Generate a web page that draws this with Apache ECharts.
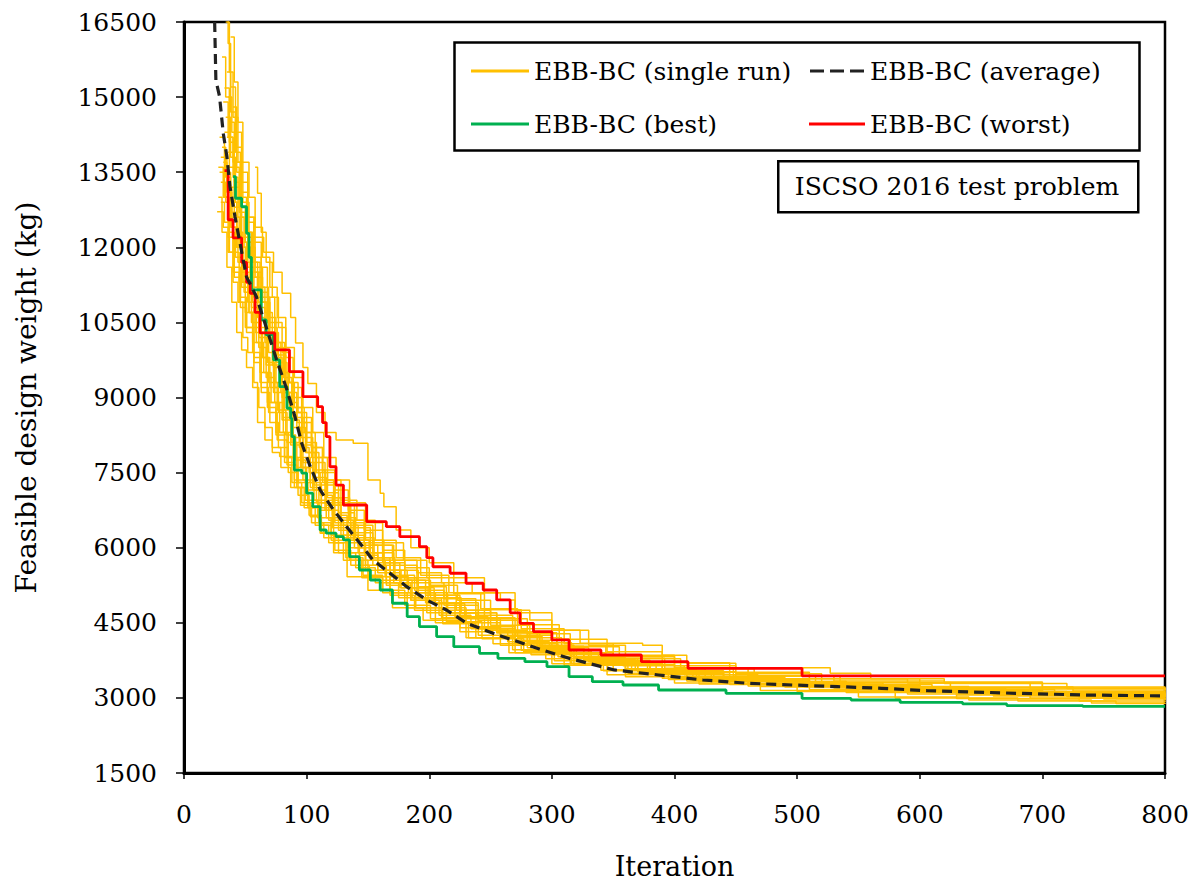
<!DOCTYPE html>
<html>
<head>
<meta charset="utf-8">
<script src="https://cdn.jsdelivr.net/npm/echarts@6/dist/echarts.min.js"></script>
<style>
  html, body { margin: 0; padding: 0; background: #fff; }
  #chart { width: 1201px; height: 888px; }
</style>
</head>
<body>
<div id="chart"></div>
<script>
// [iteration, weight] pairs (drop points of each run)
const run01 = [[27,12710],[32,12400],[36,11900],[40,11300],[44,10900],[48,10200],[52,9900],[57,9300],[60,8500],[66,8150],[72,7900],[78,7820],[88,7300],[96,6900],[103,6620],[111,6290],[122,5900],[133,5420],[150,5150],[170,4800],[195,4550],[230,4200],[270,3900],[310,3650],[360,3420],[420,3280],[500,3130],[580,3000],[680,2940],[760,2890],[800,2890]];
const run02 = [[33,17000],[36,16070],[38,15200],[42,14300],[47,13500],[52,12600],[57,12100],[63,11600],[68,11000],[74,10500],[80,9900],[86,9300],[93,8700],[100,8100],[108,7500],[117,7000],[128,6600],[140,6200],[155,5800],[172,5400],[190,5100],[215,4750],[245,4350],[280,4000],[320,3740],[370,3520],[430,3350],[500,3240],[600,3140],[700,3080],[800,3060]];
const run03 = [[33,15180],[37,14500],[41,13600],[45,12800],[50,12300],[55,11700],[60,11200],[66,10700],[72,10100],[79,9500],[85,8900],[92,8400],[99,7900],[107,7400],[116,6950],[126,6550],[138,6150],[152,5750],[168,5350],[186,5000],[210,4700],[238,4380],[270,4080],[305,3820],[350,3560],[400,3400],[460,3290],[530,3200],[620,3120],[720,3050],[800,3020]];
const run04 = [[30,13300],[34,12900],[38,12400],[42,11800],[47,11200],[53,10700],[58,10300],[64,9800],[70,9200],[77,8700],[84,8100],[92,7600],[100,7150],[110,6750],[121,6400],[134,6000],[148,5650],[165,5300],[185,4950],[210,4600],[240,4250],[275,3950],[315,3680],[365,3470],[420,3330],[490,3220],[570,3120],[660,3040],[750,2980],[800,2960]];
const run05 = [[58,13600],[60,13080],[63,12300],[67,11700],[72,11000],[77,10400],[83,9800],[89,9200],[96,8600],[104,8000],[113,7500],[123,7000],[135,6550],[148,6150],[163,5750],[180,5400],[200,5050],[225,4700],[255,4300],[290,4000],[330,3750],[380,3540],[440,3380],[510,3270],[600,3180],[700,3110],[800,3080]];
const run06 = [[35,14200],[40,13700],[46,13100],[52,12600],[58,12200],[65,11900],[73,11500],[80,11080],[87,10600],[91,10090],[97,9600],[101,9280],[108,8700],[115,8300],[124,8150],[138,8085],[150,7350],[160,7090],[163,6820],[173,6354],[185,6000],[200,5700],[220,5400],[245,5100],[270,4700],[300,4350],[330,4050],[360,3850],[400,3640],[450,3480],[520,3380],[600,3300],[700,3200],[800,3160]];
const run07 = [[36,13900],[41,13200],[46,12600],[52,12000],[58,11400],[64,10900],[70,10300],[77,9700],[84,9100],[92,8500],[100,7900],[110,7350],[122,6850],[136,6400],[152,6050],[170,5750],[190,5500],[210,5300],[235,5100],[258,4956],[270,4750],[282,4557],[300,4350],[323,4090],[374,4050],[390,3850],[410,3690],[450,3600],[527,3490],[560,3380],[620,3320],[700,3220],[800,3180]];
const run08 = [[32,13000],[36,12500],[40,11900],[45,11300],[50,10700],[56,10100],[62,9500],[68,8900],[75,8300],[82,7700],[90,7200],[98,6800],[107,6450],[118,6100],[130,5750],[145,5400],[162,5100],[182,4800],[205,4500],[232,4200],[265,3900],[300,3680],[345,3460],[400,3300],[470,3150],[550,3020],[640,2960],[740,2900],[800,2880]];
const run09 = [[29,14200],[33,13500],[38,12900],[43,12300],[48,11700],[54,11200],[60,10600],[66,10100],[73,9600],[80,9000],[87,8400],[95,7800],[103,7300],[112,6900],[123,6500],[136,6150],[151,5800],[168,5450],[188,5150],[212,4850],[240,4550],[272,4200],[308,3900],[350,3660],[400,3460],[460,3330],[540,3230],[640,3130],[740,3060],[800,3030]];
const run10 = [[31,15800],[34,15000],[37,14100],[41,13300],[45,12700],[50,12100],[55,11500],[61,10900],[67,10300],[73,9800],[80,9300],[88,8700],[96,8200],[105,7700],[115,7250],[126,6850],[139,6450],[154,6050],[171,5650],[190,5300],[212,4980],[238,4650],[268,4250],[300,3960],[340,3720],[390,3520],[450,3380],[520,3270],[610,3170],[710,3090],[800,3060]];
const run11 = [[34,14600],[38,13800],[42,12900],[47,12200],[52,11600],[57,11000],[63,10400],[69,9900],[75,9300],[82,8750],[89,8200],[97,7700],[106,7250],[116,6850],[128,6450],[142,6050],[158,5700],[176,5350],[197,5050],[222,4750],[250,4450],[282,4050],[318,3800],[360,3580],[410,3420],[475,3300],[555,3200],[650,3110],[750,3050],[800,3030]];
const run12 = [[30,13800],[35,13100],[39,12400],[44,11700],[49,11100],[55,10500],[61,10000],[67,9400],[74,8900],[81,8300],[89,7800],[97,7350],[106,6950],[116,6600],[128,6250],[142,5900],[158,5550],[177,5200],[199,4900],[225,4600],[255,4300],[290,3950],[330,3720],[378,3520],[432,3380],[500,3250],[580,3150],[680,3070],[780,3000],[800,2990]];
const run13 = [[38,16200],[41,15300],[44,14500],[48,13700],[53,13000],[58,12400],[64,11800],[70,11200],[76,10600],[83,10000],[90,9400],[97,8800],[105,8300],[114,7800],[124,7350],[135,6900],[148,6500],[162,6100],[179,5750],[198,5400],[220,5080],[245,4760],[275,4380],[310,4080],[350,3820],[400,3600],[460,3440],[530,3340],[620,3290],[720,3190],[800,3150]];
const run14 = [[28,13000],[31,12300],[35,11600],[39,10900],[43,10300],[47,9950],[51,9600],[56,9200],[61,8800],[66,8400],[72,8000],[79,7600],[87,7200],[95,6850],[104,6500],[114,6200],[126,5900],[140,5600],[156,5300],[175,5000],[198,4700],[225,4400],[258,4050],[295,3780],[340,3550],[395,3370],[460,3240],[540,3110],[630,2990],[730,2940],[800,2920]];
const run15 = [[32,14900],[36,14200],[40,13400],[44,12600],[49,12000],[54,11400],[60,10800],[66,10200],[72,9650],[79,9100],[86,8550],[94,8000],[102,7500],[111,7050],[121,6650],[133,6250],[147,5900],[163,5550],[182,5200],[204,4880],[229,4580],[258,4230],[292,3940],[332,3700],[380,3500],[440,3360],[510,3250],[600,3150],[700,3080],[800,3050]];
const run16 = [[35,15500],[38,14700],[42,13900],[46,13000],[51,12300],[56,11700],[62,11100],[68,10500],[74,10000],[81,9400],[88,8800],[96,8300],[104,7800],[113,7300],[123,6900],[134,6500],[147,6100],[162,5700],[180,5350],[201,5000],[226,4700],[255,4320],[288,4030],[326,3780],[370,3580],[425,3410],[490,3300],[570,3200],[670,3120],[770,3070],[800,3060]];
const run17 = [[29,13500],[33,13000],[37,12300],[41,11600],[46,11000],[51,10400],[57,9800],[63,9200],[69,8700],[76,8150],[84,7650],[92,7200],[101,6800],[111,6450],[122,6100],[135,5750],[150,5420],[168,5100],[189,4800],[214,4520],[243,4180],[277,3920],[316,3690],[362,3490],[415,3350],[480,3240],[560,3150],[660,3060],[760,2990],[800,2970]];
const run18 = [[40,14800],[43,14000],[47,13300],[52,12500],[57,11800],[63,11200],[69,10600],[75,10100],[82,9500],[89,9000],[96,8500],[104,8000],[113,7550],[123,7150],[134,6750],[147,6350],[162,5950],[180,5600],[200,5250],[223,4950],[250,4580],[280,4280],[315,4020],[355,3780],[405,3580],[465,3430],[535,3310],[625,3220],[725,3140],[800,3110]];
const run19 = [[31,14000],[34,13400],[38,12700],[43,12000],[48,11300],[53,10700],[59,10100],[65,9500],[71,8900],[78,8300],[85,7800],[93,7300],[101,6900],[110,6500],[120,6150],[132,5800],[146,5450],[162,5150],[180,4850],[201,4580],[225,4320],[252,4080],[283,3860],[318,3650],[360,3470],[410,3340],[470,3230],[540,3140],[630,3060],[730,3000],[800,2980]];
const run20 = [[36,15000],[39,14300],[43,13500],[47,12800],[52,12100],[57,11500],[63,10900],[69,10300],[75,9700],[82,9100],[89,8600],[97,8050],[105,7550],[115,7100],[126,6700],[139,6300],[154,5900],[171,5550],[191,5220],[214,4900],[240,4600],[270,4300],[304,4030],[344,3790],[392,3590],[448,3430],[515,3310],[600,3210],[700,3130],[800,3100]];
const run21 = [[30,12900],[33,12500],[37,11900],[41,11400],[46,10800],[51,10300],[57,9700],[63,9100],[70,8500],[77,8000],[85,7500],[93,7050],[102,6650],[112,6300],[123,5950],[136,5650],[151,5350],[168,5050],[188,4750],[211,4480],[238,4200],[268,3960],[302,3740],[342,3540],[390,3390],[445,3270],[510,3170],[590,3080],[690,3000],[800,2950]];
const run22 = [[34,16500],[37,15500],[40,14600],[44,13700],[48,12900],[53,12200],[58,11600],[64,11000],[70,10400],[76,9850],[83,9300],[90,8800],[98,8300],[107,7800],[117,7350],[128,6950],[141,6550],[156,6150],[173,5800],[193,5450],[216,5100],[242,4780],[272,4460],[306,4170],[345,3920],[390,3700],[445,3510],[510,3380],[590,3300],[690,3180],[800,3140]];
const run23 = [[28,13600],[32,13000],[36,12200],[40,11500],[45,10900],[50,10400],[56,9900],[62,9300],[68,8800],[75,8250],[82,7800],[90,7350],[99,6950],[109,6600],[120,6250],[133,5900],[148,5550],[165,5250],[185,4950],[208,4650],[234,4380],[264,4120],[298,3880],[338,3660],[385,3480],[440,3340],[505,3230],[585,3140],[680,3060],[800,3010]];
const run24 = [[33,14300],[37,13600],[41,12800],[46,12100],[51,11500],[56,10900],[62,10300],[68,9700],[74,9200],[81,8600],[88,8100],[96,7600],[105,7150],[115,6750],[126,6350],[139,6000],[154,5650],[171,5300],[191,5000],[214,4700],[240,4420],[270,4150],[304,3900],[343,3680],[390,3500],[445,3360],[510,3260],[590,3170],[690,3090],[800,3050]];
const run25 = [[37,13200],[41,12600],[45,12000],[50,11400],[55,10800],[61,10200],[67,9650],[73,9100],[80,8550],[87,8050],[95,7600],[103,7200],[112,6800],[122,6450],[134,6100],[148,5750],[164,5420],[183,5100],[205,4800],[230,4500],[258,4240],[290,3990],[326,3760],[368,3560],[418,3400],[478,3280],[548,3180],[630,3100],[720,3030],[800,3000]];
const run26 = [[32,13700],[35,13200],[39,12600],[43,12000],[47,11500],[52,10900],[57,10400],[63,9800],[69,9300],[76,8750],[83,8250],[91,7750],[99,7300],[108,6900],[118,6550],[130,6200],[143,5850],[158,5500],[176,5200],[197,4900],[221,4620],[248,4350],[280,4100],[316,3860],[358,3640],[408,3460],[468,3330],[540,3220],[625,3130],[720,3060],[800,3030]];
const singleRuns = [run01, run02, run03, run04, run05, run06, run07, run08, run09, run10, run11, run12, run13,
    run14, run15, run16, run17, run18, run19, run20, run21, run22, run23, run24, run25, run26];

const bestRun = [[40,13410],[42,12980],[47,12810],[51,12280],[53,11800],[55,11150],[63,10550],[67,10250],[73,9750],[78,9217],[84,8785],[87,8585],[88,8217],[90,7550],[96,7490],[100,7090],[105,6820],[111,6354],[116,6290],[124,6220],[130,6155],[135,5820],[143,5555],[152,5355],[160,5155],[170,4890],[182,4623],[192,4424],[206,4224],[220,4024],[241,3890],[256,3790],[278,3724],[296,3624],[314,3424],[333,3325],[358,3258],[387,3158],[442,3092],[504,2990],[544,2958],[584,2910],[635,2880],[671,2846],[733,2830],[800,2830]];

const worstRun = [[33,13530],[36,12550],[40,12190],[47,11700],[51,11300],[54,11080],[58,10700],[62,10290],[74,9950],[86,9515],[97,9017],[109,8816],[113,8500],[116,8217],[119,7617],[124,7250],[130,6853],[149,6520],[165,6420],[176,6220],[192,6020],[198,5800],[203,5620],[217,5490],[230,5290],[244,5155],[255,4956],[266,4700],[274,4490],[285,4323],[300,4157],[314,3957],[340,3857],[373,3724],[411,3590],[504,3440],[800,3440]];

const averageRun = [[25,16500],[26,15340],[29,15010],[32,14280],[35,13810],[37.5,13210],[41.6,12610],[45.7,12080],[51,11410],[59,11017],[66,10483],[75.6,9750],[84,9150],[90.5,8617],[96,8085],[103,7617],[111,7153],[122,6753],[132.6,6420],[143.5,6088],[154,5755],[168,5490],[181.6,5222],[198,4956],[214,4756],[230.6,4490],[252,4290],[268,4157],[288,3990],[314,3790],[351,3558],[387,3458],[423,3358],[460,3292],[496,3258],[533,3225],[569,3191],[606,3145],[679,3092],[733,3058],[800,3040]];

const xTicks = [0, 100, 200, 300, 400, 500, 600, 700, 800];
const yTicks = [1500, 3000, 4500, 6000, 7500, 9000, 10500, 12000, 13500, 15000, 16500];

const FONT = 'DejaVu Serif';
const ORANGE = '#FFC000';
const GREEN = '#00B050';
const RED = '#FF0000';
const DASH = '#222222';

var series = singleRuns.map(function (run) {
    return {
        name: 'EBB-BC (single run)',
        type: 'line',
        step: 'end',
        data: run,
        showSymbol: false,
        color: ORANGE,
        lineStyle: { width: 1.5, color: ORANGE },
        silent: true
    };
});
series.push({
    name: 'EBB-BC (best)', type: 'line', step: 'end', data: bestRun,
    showSymbol: false, color: GREEN, lineStyle: { width: 2.8, color: GREEN }
});
series.push({
    name: 'EBB-BC (worst)', type: 'line', step: 'end', data: worstRun,
    showSymbol: false, color: RED, lineStyle: { width: 2.8, color: RED }
});
series.push({
    name: 'EBB-BC (average)', type: 'line', data: averageRun,
    showSymbol: false, color: DASH,
    lineStyle: { width: 3.2, color: DASH, type: [10, 6] }
});

var chart = echarts.init(document.getElementById('chart'), null, { renderer: 'svg' });
chart.setOption({
    animation: false,
    backgroundColor: '#fff',
    textStyle: { fontFamily: FONT, color: '#000' },
    grid: {
        left: 184, right: 36, top: 22, bottom: 115,
        show: true, borderColor: '#000', borderWidth: 2.5
    },
    xAxis: {
        type: 'value',
        min: xTicks[0], max: xTicks[xTicks.length - 1], interval: 100,
        name: 'Iteration', nameLocation: 'middle', nameGap: 80,
        nameTextStyle: { fontFamily: FONT, fontSize: 27, color: '#000' },
        axisLine: { lineStyle: { color: '#000', width: 3 } },
        axisTick: { show: true, length: 6, lineStyle: { color: '#000', width: 1.5 } },
        axisLabel: { fontFamily: FONT, fontSize: 25, color: '#000', margin: 29,
            formatter: function (v) { return String(v); } },
        splitLine: { show: false }
    },
    yAxis: {
        type: 'value',
        min: yTicks[0], max: yTicks[yTicks.length - 1], interval: 1500,
        name: 'Feasible design weight (kg)', nameLocation: 'middle', nameGap: 144,
        nameTextStyle: { fontFamily: FONT, fontSize: 28, color: '#000' },
        axisLine: { lineStyle: { color: '#000', width: 3 } },
        axisTick: { show: true, length: 8, lineStyle: { color: '#000', width: 1.5 } },
        axisLabel: { fontFamily: FONT, fontSize: 25, color: '#000', margin: 27,
            formatter: function (v) { return String(v); } },
        splitLine: { show: false }
    },
    legend: [{
        orient: 'vertical', left: 466, top: 52,
        itemWidth: 58, itemHeight: 3, itemGap: 25,
        textStyle: { fontFamily: FONT, fontSize: 25, color: '#000', lineHeight: 28 },
        data: [
            { name: 'EBB-BC (single run)', icon: 'rect', itemStyle: { color: ORANGE } },
            { name: 'EBB-BC (best)', icon: 'rect', itemStyle: { color: GREEN } }
        ]
    }, {
        orient: 'vertical', left: 804, top: 52,
        itemWidth: 56, itemHeight: 3, itemGap: 25,
        textStyle: { fontFamily: FONT, fontSize: 25, color: '#000', lineHeight: 28 },
        data: [
            { name: 'EBB-BC (average)', icon: 'path://M0,0h14v3h-14z M20,0h14v3h-14z M40,0h14v3h-14z', itemStyle: { color: DASH } },
            { name: 'EBB-BC (worst)', icon: 'rect', itemStyle: { color: RED } }
        ]
    }],
    graphic: [{
        type: 'rect', left: 452, top: 40, z: 100, silent: true,
        shape: { width: 685, height: 108 },
        style: { fill: null, stroke: '#000', lineWidth: 2.5 }
    }, {
        type: 'rect', left: 777, top: 160, z: 100, silent: true,
        shape: { width: 360, height: 51 },
        style: { fill: '#fff', stroke: '#000', lineWidth: 2.5 }
    }, {
        type: 'text', x: 957, y: 186, z: 101, silent: true,
        style: { text: 'ISCSO 2016 test problem', fontFamily: FONT, fontSize: 25,
            fill: '#000', align: 'center', verticalAlign: 'middle' }
    }],
    series: series
});
</script>
</body>
</html>
